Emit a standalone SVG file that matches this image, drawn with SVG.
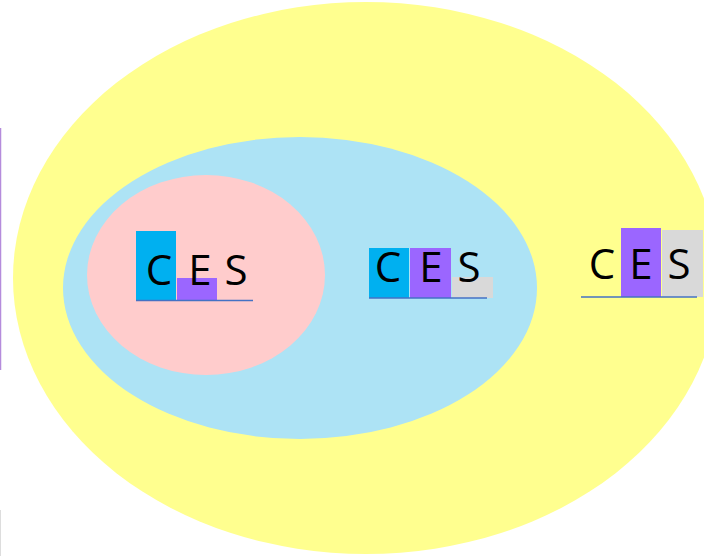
<svg xmlns="http://www.w3.org/2000/svg" width="704" height="556" viewBox="0 0 704 556">
<style>
.t{font-family:"Open Sans","Liberation Sans",sans-serif;font-size:42px;fill:#000;text-anchor:middle}
.c{fill:#00B0F0}
.e{fill:#9B66FF}
.s{fill:#D9D9D9}
.u{stroke:#4472C4;stroke-width:1.5}
</style>
<rect width="704" height="556" fill="#fff"/>
<line x1="0.5" y1="128" x2="0.5" y2="370" stroke="#B58CDC" stroke-width="1.5"/>
<line x1="0.5" y1="510" x2="0.5" y2="556" stroke="#ddd" stroke-width="1"/>
<g id="outer"><ellipse cx="366" cy="278" rx="353" ry="276" fill="#FFFF8F"/></g>
<g id="middle"><ellipse cx="300" cy="288" rx="237" ry="151" fill="#ADE3F5"/></g>
<g id="inner"><ellipse cx="206" cy="275" rx="119" ry="100" fill="#FFCCCC"/></g>
<g id="ces1">
<rect class="c" x="136" y="231" width="40" height="70"/>
<rect class="e" x="177" y="278" width="40" height="23"/>
<line class="u" x1="136" y1="300.5" x2="253" y2="300.5"/>
<text class="t" x="159" y="285">C</text>
<text class="t" x="200" y="285">E</text>
<text class="t" x="236" y="285">S</text>
</g>
<g id="ces2">
<rect class="c" x="369" y="248" width="40" height="50"/>
<rect class="e" x="410" y="248" width="41" height="50"/>
<rect class="s" x="452" y="277" width="41" height="21"/>
<line class="u" x1="369" y1="298" x2="487" y2="298"/>
<text class="t" x="388" y="282">C</text>
<text class="t" x="431" y="282">E</text>
<text class="t" x="469" y="282">S</text>
</g>
<g id="ces3">
<rect class="e" x="621" y="228" width="40" height="69"/>
<rect class="s" x="662" y="230" width="41" height="67"/>
<line class="u" x1="581" y1="297" x2="697" y2="297"/>
<text class="t" x="602" y="279">C</text>
<text class="t" x="641" y="279">E</text>
<text class="t" x="679" y="279">S</text>
</g>
</svg>
